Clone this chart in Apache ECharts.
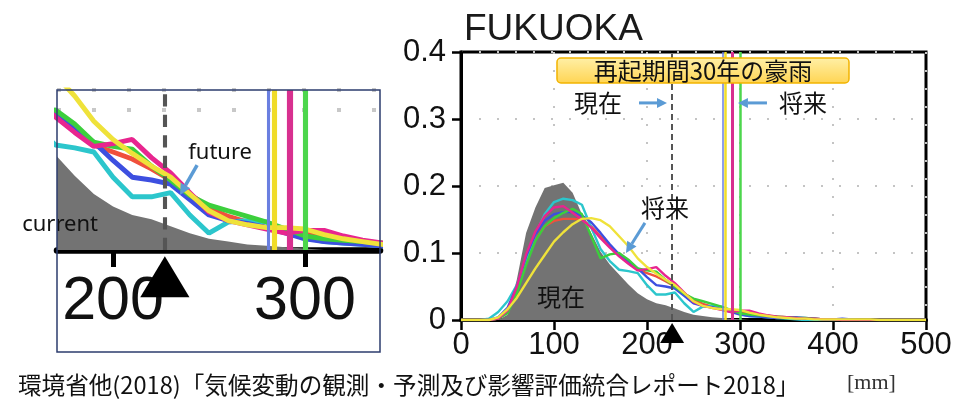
<!DOCTYPE html>
<html>
<head>
<meta charset="utf-8">
<script src="https://cdn.jsdelivr.net/npm/echarts@6/dist/echarts.min.js"></script>
<style>
  html, body { margin: 0; padding: 0; background: #ffffff; }
  #chart { width: 971px; height: 400px; }
</style>
</head>
<body>
<div id="chart"></div>
<script>
// 30-day maximum precipitation frequency distribution, Fukuoka (10 mm bins)
const binMm = [
  0, 10, 20, 30, 40, 50, 60, 70, 80, 90,
  100, 110, 120, 130, 140, 150, 160, 170, 180, 190,
  200, 210, 220, 230, 240, 250, 260, 270, 280, 290,
  300, 310, 320, 330, 340, 350, 360, 370, 380, 390,
  400, 410, 420, 430, 440, 450, 460, 470, 480, 490,
  500
];

// present climate (grey area)
const currentFreq = [
  0, 0, 0, 0, 0, 0.008, 0.06, 0.13, 0.168, 0.197,
  0.201, 0.205, 0.19, 0.158, 0.13, 0.102, 0.083, 0.068, 0.053, 0.04,
  0.031, 0.025, 0.022, 0.017, 0.012, 0.008, 0.006, 0.004, 0.003, 0.002,
  0.001, 0, 0, 0, 0, 0, 0, 0, 0, 0,
  0, 0, 0, 0, 0, 0, 0, 0, 0, 0,
  0
];

// future climate ensemble members
const runRed = [
  0, 0, 0, 0, 0.002, 0.012, 0.045, 0.09, 0.12, 0.14,
  0.148, 0.151, 0.151, 0.15, 0.14, 0.125, 0.11, 0.097, 0.085, 0.075,
  0.07, 0.065, 0.058, 0.05, 0.04, 0.03, 0.024, 0.02, 0.016, 0.013,
  0.011, 0.01, 0.008, 0.006, 0.005, 0.004, 0.003, 0.002, 0.002, 0.001,
  0.001, 0, 0, 0, 0, 0, 0, 0, 0, 0,
  0
];
const runCyan = [
  0, 0, 0, 0.002, 0.012, 0.028, 0.052, 0.09, 0.128, 0.158,
  0.176, 0.181, 0.179, 0.172, 0.138, 0.106, 0.088, 0.075, 0.073, 0.07,
  0.052, 0.038, 0.038, 0.041, 0.025, 0.012, 0.02, 0.021, 0.02, 0.013,
  0.009, 0.006, 0.005, 0.004, 0.003, 0.002, 0.001, 0, 0, 0,
  0, 0, 0, 0, 0, 0, 0, 0, 0, 0,
  0
];
const runBlue = [
  0, 0, 0, 0, 0.004, 0.018, 0.05, 0.095, 0.128, 0.148,
  0.158, 0.161, 0.161, 0.156, 0.146, 0.13, 0.113, 0.098, 0.087, 0.077,
  0.064, 0.052, 0.05, 0.047, 0.036, 0.025, 0.021, 0.019, 0.016, 0.012,
  0.008, 0.006, 0.005, 0.004, 0.003, 0.004, 0.004, 0.003, 0.002, 0.001,
  0.001, 0.002, 0.001, 0, 0, 0, 0, 0, 0, 0,
  0
];
const runGreen = [
  0, 0, 0, 0, 0.002, 0.01, 0.04, 0.082, 0.118, 0.14,
  0.152, 0.16, 0.166, 0.158, 0.125, 0.092, 0.098, 0.1, 0.09, 0.077,
  0.074, 0.072, 0.06, 0.05, 0.039, 0.032, 0.028, 0.024, 0.02, 0.015,
  0.01, 0.008, 0.007, 0.006, 0.005, 0.004, 0.003, 0.003, 0.002, 0.001,
  0.001, 0, 0, 0, 0, 0, 0, 0, 0, 0,
  0
];
const runMagenta = [
  0, 0, 0, 0, 0.002, 0.014, 0.05, 0.098, 0.132, 0.155,
  0.168, 0.17, 0.16, 0.15, 0.138, 0.122, 0.108, 0.095, 0.084, 0.074,
  0.076, 0.079, 0.066, 0.055, 0.041, 0.027, 0.021, 0.018, 0.015, 0.012,
  0.014, 0.014, 0.01, 0.007, 0.005, 0.004, 0.003, 0.002, 0.002, 0.001,
  0.001, 0, 0, 0, 0, 0, 0, 0, 0, 0,
  0
];
const runYellow = [
  0, 0, 0, 0, 0.004, 0.016, 0.033, 0.055, 0.077, 0.097,
  0.117, 0.131, 0.143, 0.151, 0.152, 0.149, 0.14, 0.125, 0.11, 0.092,
  0.079, 0.069, 0.06, 0.052, 0.04, 0.028, 0.021, 0.018, 0.016, 0.016,
  0.015, 0.011, 0.008, 0.006, 0.004, 0.003, 0.002, 0.002, 0.001, 0.001,
  0.001, 0.001, 0.001, 0.001, 0.001, 0, 0, 0, 0, 0,
  0
];

const runs = [runRed, runCyan, runBlue, runGreen, runMagenta, runYellow];
const runColors = ['#f0503c', '#2cc6cc', '#3d4fe0', '#3ccf3c', '#e8258f', '#efe23a'];

// 30-year return levels [mm]
const currentReturnMm = 227;
const futureReturnMm = [281, 284, 292, 300];
const futureReturnColors = ['#6a7fe0', '#f0dc28', '#d8308f', '#4cd64c'];
const futureReturnWidths = [1.5, 2.5, 3, 2.5];

// axis ticks
const mainTicksMm = [0, 100, 200, 300, 400, 500];
const insetTicksMm = [200, 300];
const insetRangeMm = [170.8, 339.1];
const insetMaxFreq = 0.1143;

const JP = '"Noto Sans CJK JP", "Noto Sans CJK SC", sans-serif';
const SANS = '"Liberation Sans", Arial, sans-serif';

function pairs(arr) { return binMm.map((x, i) => [x, arr[i]]); }

function seriesForGrid(g, k) {
  const list = [];
  list.push({
    type: 'line', xAxisIndex: g, yAxisIndex: g, data: pairs(currentFreq),
    symbol: 'none', lineStyle: { width: 0 }, itemStyle: { color: '#737373' },
    areaStyle: { color: '#737373', opacity: 1 }, silent: true, z: 2
  });
  runs.forEach((r, i) => list.push({
    type: 'line', xAxisIndex: g, yAxisIndex: g, data: pairs(r),
    symbol: 'none', lineStyle: { width: 2.4 * k, color: runColors[i] },
    itemStyle: { color: runColors[i] }, silent: true, z: 3
  }));
  // return-level lines
  list.push({
    type: 'line', xAxisIndex: g, yAxisIndex: g, data: [[currentReturnMm, 0]],
    symbol: 'none', lineStyle: { width: 0 }, silent: true, z: 4,
    markLine: {
      silent: true, symbol: ['none', 'none'], label: { show: false }, animation: false,
      data: [{ xAxis: currentReturnMm, lineStyle: { color: '#555', width: 2 * k, type: [6 * k, 4 * k] } }]
        .concat(futureReturnMm.map((v, i) => ({
          xAxis: v, lineStyle: { color: futureReturnColors[i], width: futureReturnWidths[i] * k, type: 'solid' }
        })))
    }
  });
  // marker for the present return level under the axis
  list.push({
    type: 'scatter', xAxisIndex: g, yAxisIndex: g, data: [[currentReturnMm, 0]],
    symbol: 'triangle', symbolSize: [24 * k, 20 * k], symbolOffset: [0, 13 * k],
    itemStyle: { color: '#000', opacity: 1 }, clip: false, silent: true, z: 10
  });
  return list;
}

const option = {
  animation: false,
  backgroundColor: '#ffffff',
  title: {
    text: 'FUKUOKA', left: 459, top: 6,
    textStyle: { fontSize: 37, fontWeight: 'normal', color: '#1a1a1a', fontFamily: SANS }
  },
  grid: [
    { left: 461, top: 52, width: 465, height: 268, show: true, borderColor: '#000', borderWidth: 3, backgroundColor: 'transparent' },
    { left: 57, top: 90, width: 323, height: 160, show: false }
  ],
  xAxis: [
    {
      type: 'value', gridIndex: 0, min: 0, max: 500, interval: 100,
      axisLine: { show: true, lineStyle: { color: '#000', width: 4 } },
      axisTick: { show: true, length: 10, lineStyle: { color: '#000', width: 2.5 } },
      axisLabel: { fontSize: 31, color: '#111', fontFamily: SANS, margin: 10 },
      splitLine: { show: true, lineStyle: { color: '#c4c4c4', width: 2, type: [2, 16] } }
    },
    {
      type: 'value', gridIndex: 1, min: insetRangeMm[0], max: insetRangeMm[1],
      axisLine: { show: true, lineStyle: { color: '#000', width: 6.5 } },
      axisTick: { show: true, customValues: insetTicksMm, length: 17, lineStyle: { color: '#000', width: 5 } },
      axisLabel: { customValues: insetTicksMm, fontSize: 61, color: '#111', fontFamily: SANS, margin: 22 },
      splitLine: { show: false }
    }
  ],
  yAxis: [
    {
      type: 'value', gridIndex: 0, min: 0, max: 0.4, interval: 0.1,
      axisLine: { show: true, lineStyle: { color: '#000', width: 3 } },
      axisTick: { show: true, length: 9, lineStyle: { color: '#000', width: 2.5 } },
      axisLabel: { fontSize: 31, color: '#111', fontFamily: SANS, margin: 15 },
      splitLine: { show: true, lineStyle: { color: '#c4c4c4', width: 2, type: [2, 16] } }
    },
    {
      type: 'value', gridIndex: 1, min: 0, max: insetMaxFreq, interval: 0.1,
      axisLine: { show: false }, axisTick: { show: false }, axisLabel: { show: false },
      splitLine: { show: true, lineStyle: { color: '#c8c8c8', width: 4, type: [4, 31] } }
    }
  ],
  series: seriesForGrid(0, 1).concat(seriesForGrid(1, 2.05))
};

const chart = echarts.init(document.getElementById('chart'));
chart.setOption(option);

// annotations anchored in data coordinates
const toPx = (g, p) => chart.convertToPixel({ gridIndex: g }, p);
const ARROW = '#5b9bd5';

function arrow(p0, p1, w, headLen, headW) {
  const dx = p1[0] - p0[0], dy = p1[1] - p0[1];
  const L = Math.hypot(dx, dy), ux = dx / L, uy = dy / L;
  const bx = p1[0] - ux * headLen, by = p1[1] - uy * headLen;
  return [
    { type: 'line', shape: { x1: p0[0], y1: p0[1], x2: bx, y2: by }, style: { stroke: ARROW, lineWidth: w }, z: 50 },
    { type: 'polygon', shape: { points: [[p1[0], p1[1]], [bx - uy * headW / 2, by + ux * headW / 2], [bx + uy * headW / 2, by - ux * headW / 2]] }, style: { fill: ARROW }, z: 50 }
  ];
}
function label(p, text, size, family, color) {
  return {
    type: 'text', x: p[0], y: p[1], z: 60,
    style: { text: text, fontSize: size, fontFamily: family, fill: color || '#111', align: 'center', verticalAlign: 'middle' }
  };
}

const boxC = toPx(0, [260.2, 0.3724]);
const boxW = 292, boxH = 25;
const elements = [
  {
    type: 'rect', z: 55,
    shape: { x: boxC[0] - boxW / 2, y: boxC[1] - boxH / 2, width: boxW, height: boxH, r: 4 },
    style: {
      fill: new echarts.graphic.LinearGradient(0, 0, 0, 1, [
        { offset: 0, color: '#fff0a8' }, { offset: 1, color: '#ffd452' }
      ]),
      stroke: '#f2b400', lineWidth: 1.5
    }
  },
  label(boxC, '再起期間30年の豪雨', 24, JP),
  label(toPx(0, [147.3, 0.324]), '現在', 24, JP),
  label(toPx(0, [367.7, 0.324]), '将来', 24, JP),
  label(toPx(0, [219.4, 0.167]), '将来', 24, JP),
  label(toPx(0, [107.5, 0.034]), '現在', 24, JP),
  ...arrow(toPx(0, [191.4, 0.324]), toPx(0, [221.5, 0.324]), 3, 10, 10),
  ...arrow(toPx(0, [329, 0.324]), toPx(0, [297.8, 0.324]), 3, 10, 10),
  ...arrow(toPx(0, [197.8, 0.145]), toPx(0, [177.4, 0.1]), 3, 11, 11),
  // inset
  label(toPx(1, [172.4, 0.0179]), 'current', 22, '"Noto Sans", sans-serif'),
  label(toPx(1, [255.8, 0.0693]), 'future', 22, '"Noto Sans", sans-serif'),
  ...arrow(toPx(1, [243.8, 0.0607]), toPx(1, [234.9, 0.0393]), 3.5, 11, 11),
  {
    type: 'rect', z: 70, shape: { x: 57, y: 90, width: 323, height: 262 },
    style: { fill: 'none', stroke: '#2d3c6e', lineWidth: 1.5 }
  },
  {
    type: 'text', x: 18, y: 385, z: 60,
    style: { text: '環境省他(2018)「気候変動の観測・予測及び影響評価統合レポート2018」', fontSize: 23.6, fontFamily: JP, fill: '#111', align: 'left', verticalAlign: 'middle' }
  },
  {
    type: 'text', x: 847, y: 383, z: 60,
    style: { text: '[mm]', fontSize: 22, fontFamily: '"Liberation Serif", serif', fill: '#333', align: 'left', verticalAlign: 'middle' }
  }
];
chart.setOption({ graphic: elements });
</script>
</body>
</html>
